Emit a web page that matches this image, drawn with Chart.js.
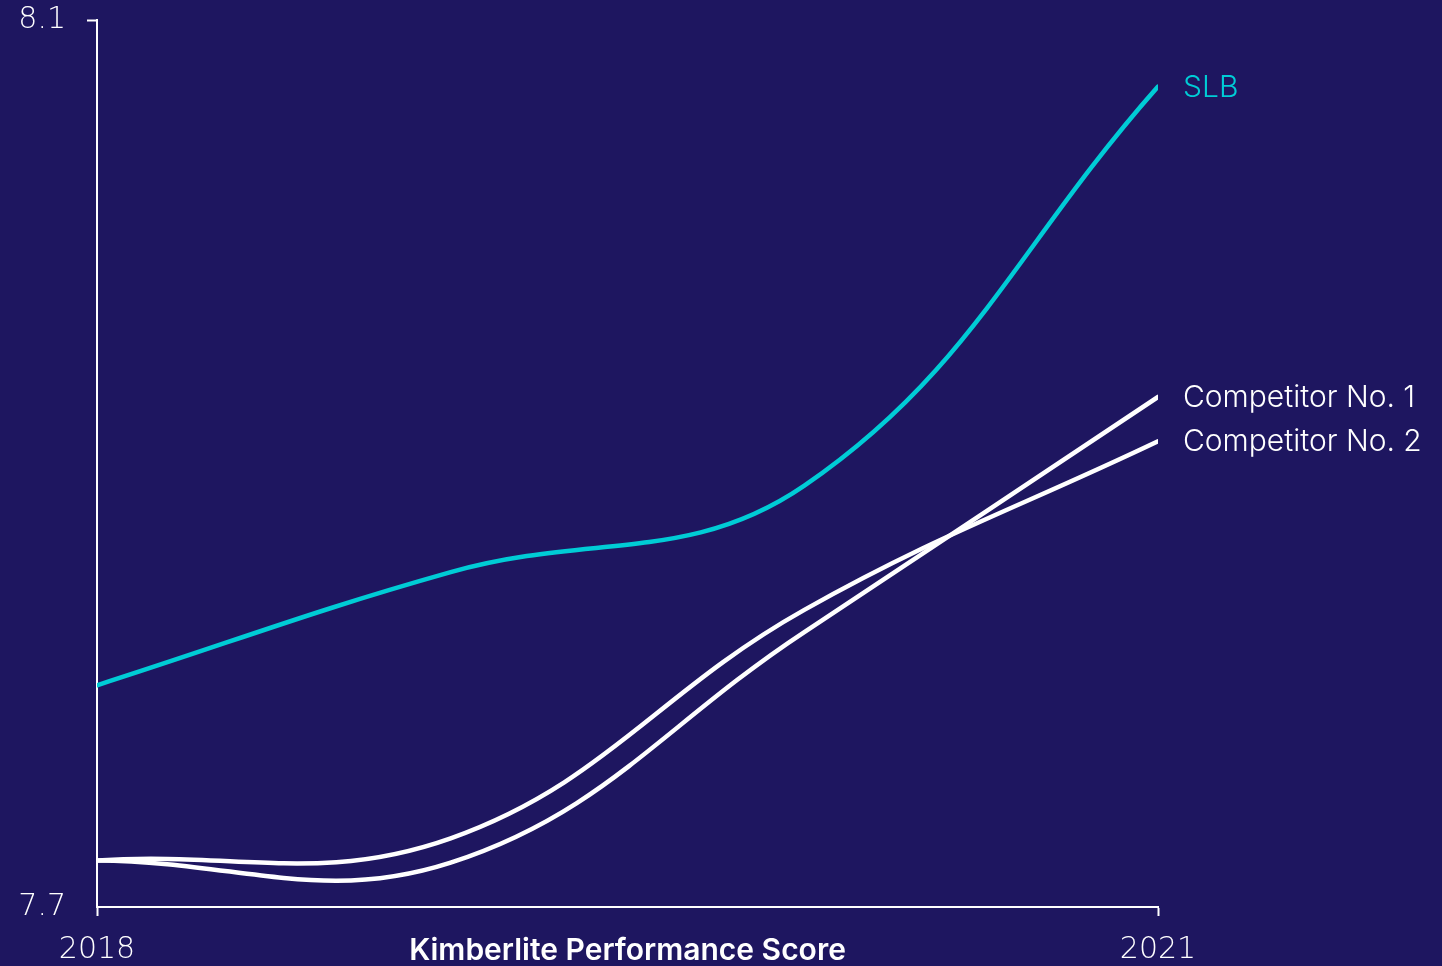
<!DOCTYPE html>
<html>
<head>
<meta charset="utf-8">
<script src="https://cdn.jsdelivr.net/npm/chart.js@4"></script>
<style>
  html, body { margin: 0; padding: 0; background: #1e1660; }
  #wrap { width: 1442px; height: 966px; position: relative; }
</style>
</head>
<body>
<div id="wrap"><canvas id="c"></canvas></div>
<script>
const years = [2018, 2019, 2020, 2021];
const slb = [7.800, 7.851, 7.890, 8.070];
const competitor1 = [7.721, 7.720, 7.824, 7.930];
const competitor2 = [7.721, 7.731, 7.834, 7.910];
const seriesNames = ['SLB', 'Competitor No. 1', 'Competitor No. 2'];
const xTickValues = [2018, 2021];
const yTickValues = [7.7, 8.1];
const axisTitle = 'Kimberlite Performance Score';

const CYAN = '#00ccd6';
const WHITE = '#ffffff';
const TICK_FONT = { family: '"DejaVu Sans", sans-serif', size: 30, weight: '200' };

const endLabels = {
  id: 'endLabels',
  afterDatasetsDraw(chart) {
    const ctx = chart.ctx;
    ctx.save();
    ctx.font = `300 30px Inter, "Liberation Sans", sans-serif`;
    ctx.textBaseline = 'middle';
    ctx.textAlign = 'left';
    chart.data.datasets.forEach((ds, i) => {
      const meta = chart.getDatasetMeta(i);
      const last = meta.data[meta.data.length - 1];
      ctx.fillStyle = ds.borderColor;
      ctx.fillText(ds.label, last.x + 25, last.y + 1);
    });
    ctx.restore();
  }
};

const toXY = arr => arr.map((v, i) => ({ x: years[i], y: v }));

new Chart(document.getElementById('c'), {
  type: 'line',
  data: {
    datasets: [
      { label: seriesNames[0], data: toXY(slb), borderColor: CYAN },
      { label: seriesNames[1], data: toXY(competitor1), borderColor: WHITE },
      { label: seriesNames[2], data: toXY(competitor2), borderColor: WHITE }
    ].map(d => Object.assign(d, {
      borderWidth: 4.5, tension: 0.4, pointRadius: 0, borderCapStyle: 'round', fill: false
    }))
  },
  options: {
    responsive: true,
    maintainAspectRatio: false,
    animation: false,
    devicePixelRatio: 1,
    layout: { padding: { left: 0, right: 284, top: 20, bottom: 0 } },
    plugins: { legend: { display: false }, tooltip: { enabled: false } },
    scales: {
      x: {
        type: 'linear',
        min: 2018, max: 2021,
        afterBuildTicks: s => { s.ticks = xTickValues.map(v => ({ value: v })); },
        afterFit: s => { s.height = 59; s.paddingLeft = 0; s.paddingRight = 0; },
        grid: { drawOnChartArea: false, drawTicks: true, tickLength: 9, tickColor: WHITE, tickWidth: 2 },
        border: { display: true, color: WHITE, width: 2 },
        ticks: {
          color: WHITE, font: TICK_FONT, padding: 16, maxRotation: 0,
          callback: v => String(v)
        },
        title: {
          display: true, text: axisTitle, color: WHITE,
          font: { family: 'Inter, "Liberation Sans", sans-serif', size: 30, weight: '600' },
          padding: { top: 0, bottom: -3 }
        }
      },
      y: {
        type: 'linear',
        min: 7.7, max: 8.1,
        afterBuildTicks: s => { s.ticks = yTickValues.map(v => ({ value: v })); },
        afterFit: s => { s.width = 97; s.paddingTop = 0; s.paddingBottom = 0; },
        grid: {
          drawOnChartArea: false, drawTicks: true, tickLength: 10, tickWidth: 2,
          tickColor: c => (c.tick && c.tick.value === 8.1) ? WHITE : 'rgba(0,0,0,0)'
        },
        border: { display: true, color: WHITE, width: 2 },
        ticks: {
          color: WHITE, font: TICK_FONT, padding: 21,
          callback: v => v.toFixed(1)
        }
      }
    }
  },
  plugins: [endLabels]
});
</script>
</body>
</html>
